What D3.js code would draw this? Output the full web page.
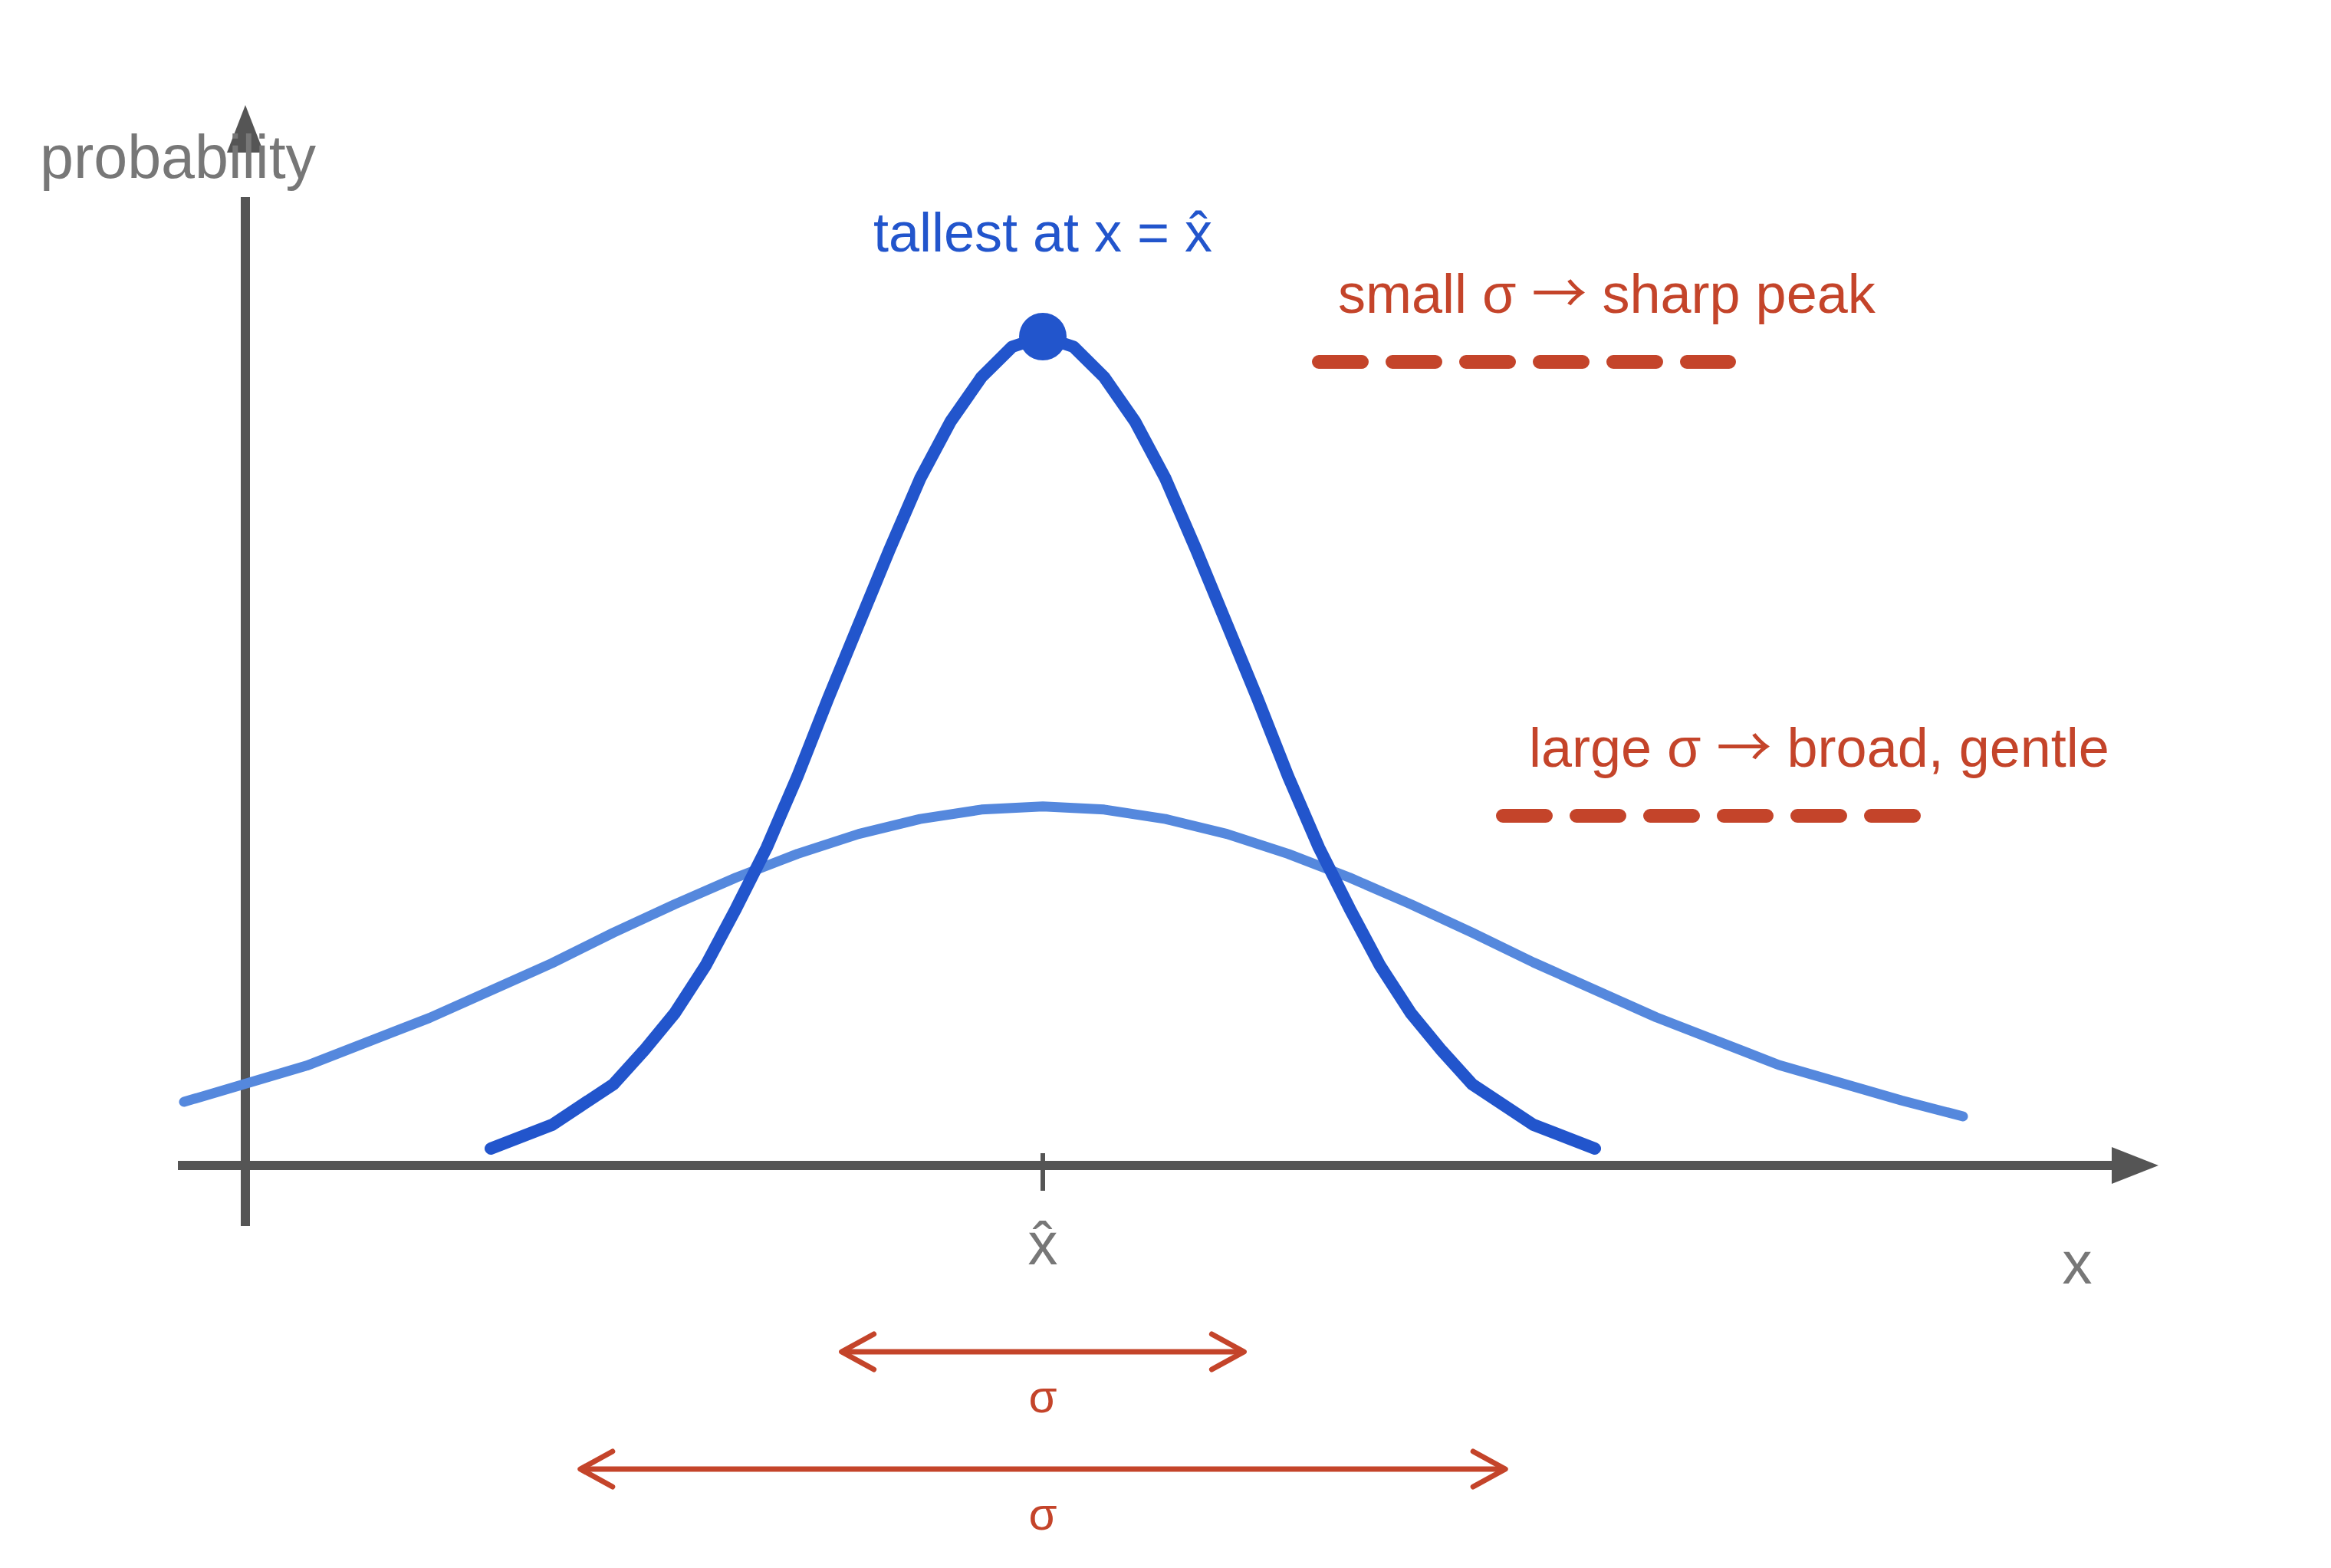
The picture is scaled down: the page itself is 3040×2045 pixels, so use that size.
<!DOCTYPE html>
<html>
<head>
<meta charset="utf-8">
<script src="https://cdn.jsdelivr.net/npm/d3@7"></script>
<style>
  body { margin: 0; background: #fff; }
  svg { display: block; font-family: "Liberation Sans", Arial, sans-serif; }
  .freccia { font-family: "Noto Sans CJK SC", "DejaVu Sans", sans-serif; }
</style>
</head>
<body>
<svg width="3040" height="2045"></svg>
<script>
/*
DATI
*/
var xHat = 6.5
var sigmaSmall = 1.64
var sigmaLarge = 3.77

// curva stretta (small sigma)
var narrowX = [2, 2.5, 3, 3.25, 3.5, 3.75, 4, 4.25, 4.5, 4.75, 5, 5.25, 5.5, 5.75, 6, 6.25,
               6.5, 6.75, 7, 7.25, 7.5, 7.75, 8, 8.25, 8.5, 8.75, 9, 9.25, 9.5, 9.75, 10, 10.5, 11]
var narrowP = [0.005, 0.012, 0.024, 0.034, 0.045, 0.059, 0.076, 0.094, 0.115, 0.138, 0.160, 0.182, 0.203, 0.220, 0.233, 0.242,
               0.245, 0.242, 0.233, 0.220, 0.203, 0.182, 0.160, 0.138, 0.115, 0.094, 0.076, 0.059, 0.045, 0.034, 0.024, 0.012, 0.005]

// curva larga (large sigma)
var broadX = [-0.5, 0.5, 1.5, 2.5, 3, 3.5, 4, 4.5, 5, 5.5, 6, 6.5, 7, 7.5, 8, 8.5, 9, 9.5, 10, 10.5, 11.5, 12.5, 13.5, 14]
var broadP = [0.0188, 0.0295, 0.0436, 0.0598, 0.0688, 0.0772, 0.0851, 0.0921, 0.0980, 0.1024, 0.1052, 0.1061,
              0.1052, 0.1024, 0.0980, 0.0921, 0.0851, 0.0772, 0.0688, 0.0600, 0.0438, 0.0297, 0.0192, 0.0145]

// testi
var yLabel = "probability"
var xLabel = "x"
var tickLabel = "x\u0302"
var peakLabel = "tallest at x = x\u0302"
var smallLabel = ["small \u03c3 ", "\u2192", " sharp peak"]
var largeLabel = ["large \u03c3 ", "\u2192", " broad, gentle"]
var sigmaLabel = "\u03c3"

/*
COLORI
*/
var blu = "#2255cc"
var bluChiaro = "#5588dd"
var rosso = "#c4442a"
var grigioAsse = "#555555"
var grigioTesto = "#777777"

var svg = d3.select("svg")

var x = d3.scaleLinear().domain([0, xHat]).range([320, 1360])
var y = d3.scaleLinear().domain([0, 0.245]).range([1520, 439])

var linea = d3.line()
	.x(function(d){ return x(d[0]) })
	.y(function(d){ return y(d[1]) })

/*
ASSI
*/
var x0 = x(0), y0 = y(0)

// asse x con freccia
svg.append("line")
	.attr("x1", 232).attr("y1", y0)
	.attr("x2", 2756).attr("y2", y0)
	.attr("stroke", grigioAsse).attr("stroke-width", 12)
svg.append("path")
	.attr("d", "M2754," + (y0-24) + "L2815," + y0 + "L2754," + (y0+24) + "Z")
	.attr("fill", grigioAsse)

// asse y con freccia
svg.append("line")
	.attr("x1", x0).attr("y1", 1599)
	.attr("x2", x0).attr("y2", 257)
	.attr("stroke", grigioAsse).attr("stroke-width", 12)
svg.append("path")
	.attr("d", "M" + (x0-24) + ",199L" + x0 + ",137L" + (x0+24) + ",199Z")
	.attr("fill", grigioAsse)

// tacca in x hat
svg.append("line")
	.attr("x1", x(xHat)).attr("y1", y0 - 16)
	.attr("x2", x(xHat)).attr("y2", y0 + 33)
	.attr("stroke", grigioAsse).attr("stroke-width", 6)

svg.append("text")
	.attr("x", 52).attr("y", 232)
	.attr("font-size", 79).attr("fill", grigioTesto)
	.text(yLabel)

svg.append("text")
	.attr("x", x(xHat)).attr("y", 1649)
	.attr("text-anchor", "middle")
	.attr("font-size", 78).attr("fill", grigioTesto)
	.text(tickLabel)

svg.append("text")
	.attr("x", 2709).attr("y", 1674)
	.attr("text-anchor", "middle")
	.attr("font-size", 78).attr("fill", grigioTesto)
	.text(xLabel)

/*
CURVE
*/
svg.append("path")
	.datum(d3.zip(broadX, broadP))
	.attr("d", linea)
	.attr("fill", "none")
	.attr("stroke", bluChiaro)
	.attr("stroke-width", 13)
	.attr("stroke-linecap", "round")
	.attr("stroke-linejoin", "round")

svg.append("path")
	.datum(d3.zip(narrowX, narrowP))
	.attr("d", linea)
	.attr("fill", "none")
	.attr("stroke", blu)
	.attr("stroke-width", 16)
	.attr("stroke-linecap", "round")
	.attr("stroke-linejoin", "round")

// punto piu alto
var picco = narrowP.indexOf(d3.max(narrowP))
svg.append("circle")
	.attr("cx", x(narrowX[picco]))
	.attr("cy", y(narrowP[picco]))
	.attr("r", 31)
	.attr("fill", blu)

svg.append("text")
	.attr("x", x(xHat)).attr("y", 328)
	.attr("text-anchor", "middle")
	.attr("font-size", 72).attr("fill", blu)
	.text(peakLabel)

/*
ANNOTAZIONI SIGMA
*/
var note = [
	{ testo: smallLabel, tx: 1745, ty: 408, lx1: 1720, lx2: 2255, ly: 472 },
	{ testo: largeLabel, tx: 1994, ty: 1000, lx1: 1960, lx2: 2496, ly: 1064 }
]
note.forEach(function(n){
	var t = svg.append("text")
		.attr("x", n.tx).attr("y", n.ty)
		.attr("font-size", 72).attr("fill", rosso)
		.style("white-space", "pre")
	t.append("tspan").text(n.testo[0])
	t.append("tspan").attr("class", "freccia").text(n.testo[1])
	t.append("tspan").text(n.testo[2])
	svg.append("line")
		.attr("x1", n.lx1).attr("y1", n.ly)
		.attr("x2", n.lx2).attr("y2", n.ly)
		.attr("stroke", rosso).attr("stroke-width", 18)
		.attr("stroke-linecap", "round")
		.style("stroke-dasharray", "56, 40")
})

// frecce doppie larghe sigma
var frecce = [
	{ s: sigmaSmall, ay: 1763, ty: 1842 },
	{ s: sigmaLarge, ay: 1916, ty: 1995 }
]
frecce.forEach(function(f){
	var xa = x(xHat - f.s), xb = x(xHat + f.s)
	svg.append("line")
		.attr("x1", xa).attr("y1", f.ay)
		.attr("x2", xb).attr("y2", f.ay)
		.attr("stroke", rosso).attr("stroke-width", 7)
	svg.append("path")
		.attr("d", "M" + (xa+42) + "," + (f.ay-23) + "L" + xa + "," + f.ay + "L" + (xa+42) + "," + (f.ay+23)
			+ "M" + (xb-42) + "," + (f.ay-23) + "L" + xb + "," + f.ay + "L" + (xb-42) + "," + (f.ay+23))
		.attr("fill", "none")
		.attr("stroke", rosso).attr("stroke-width", 7)
		.attr("stroke-linejoin", "round").attr("stroke-linecap", "round")
	svg.append("text")
		.attr("x", x(xHat)).attr("y", f.ty)
		.attr("text-anchor", "middle")
		.attr("font-size", 60).attr("fill", rosso)
		.text(sigmaLabel)
})
</script>
</body>
</html>
